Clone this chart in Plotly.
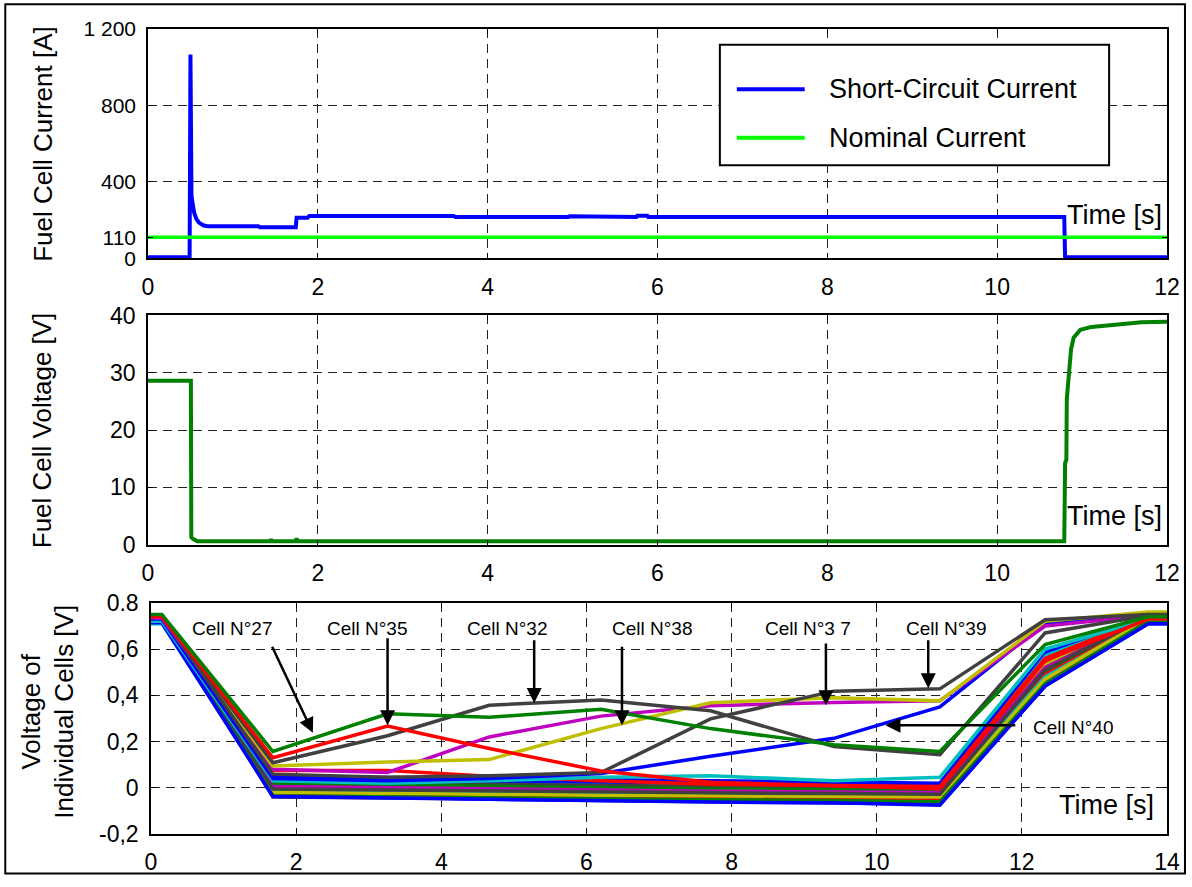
import plotly.graph_objects as go

# ---------------- data ----------------
# Fuel cell current during the short-circuit test
t_current = [0.00, 0.49, 0.500, 0.503, 0.507, 0.512, 0.520, 0.530, 0.545, 0.570,
             0.600, 0.650, 0.700, 1.300, 1.320, 1.740, 1.750, 1.880, 1.900, 3.600,
             3.620, 4.950, 4.970, 5.750, 5.760, 5.880, 5.890, 10.790, 10.800, 12.00]
i_short_circuit = [5, 5, 1066, 505, 495, 330, 300, 265, 235, 205,
                   186, 172, 167, 167, 162, 162, 212, 212, 221, 221,
                   216, 216, 220, 216, 222, 222, 216, 216, 5, 5]
t_nominal = [0.0, 12.0]
i_nominal = [110, 110]

# Fuel cell stack voltage
t_voltage = [0.00, 0.505, 0.510, 0.530, 0.580, 1.440, 1.450, 1.460, 1.740, 1.750,
             1.760, 10.790, 10.800, 10.815, 10.820, 10.830, 10.855, 10.870, 10.900,
             10.980, 11.110, 11.390, 11.700, 12.00]
v_stack = [28.6, 28.6, 1.3, 1.0, 0.6, 0.6, 0.9, 0.6, 0.6, 1.1,
           0.6, 0.6, 14.2, 14.8, 25.4, 27.0, 31.8, 34.1, 36.1,
           37.5, 38.0, 38.4, 38.8, 38.9]

# Individual cell voltages
t_cells = [0.00, 0.15, 1.68, 3.26, 4.66, 6.20, 7.71, 9.41, 10.87, 12.32, 13.74, 14.00]

cell_01 = [0.720, 0.720, 0.030, 0.025, 0.020, 0.015, 0.010, 0.008, 0.005, 0.58, 0.740, 0.740]
cell_02 = [0.730, 0.730, 0.010, 0.005, 0.000, -0.005, -0.010, -0.012, -0.015, 0.52, 0.730, 0.730]
cell_03 = [0.740, 0.740, -0.010, -0.015, -0.020, -0.022, -0.025, -0.028, -0.030, 0.50, 0.720, 0.720]
cell_04 = [0.710, 0.710, -0.030, -0.035, -0.040, -0.042, -0.045, -0.047, -0.050, 0.46, 0.720, 0.720]
cell_05 = [0.730, 0.730, 0.020, 0.015, 0.005, 0.000, -0.005, -0.008, -0.010, 0.55, 0.740, 0.740]
cell_06 = [0.740, 0.740, 0.000, -0.005, -0.010, -0.015, -0.018, -0.020, -0.022, 0.49, 0.730, 0.730]
cell_07 = [0.745, 0.745, -0.040, -0.045, -0.048, -0.050, -0.052, -0.055, -0.058, 0.44, 0.720, 0.720]
cell_08 = [0.730, 0.730, 0.045, 0.040, 0.035, 0.030, 0.020, 0.015, 0.010, 0.57, 0.745, 0.745]
cell_09 = [0.720, 0.720, -0.020, -0.025, -0.030, -0.035, -0.040, -0.042, -0.045, 0.47, 0.725, 0.725]
cell_10 = [0.740, 0.740, 0.005, 0.000, -0.005, -0.008, -0.010, -0.012, -0.015, 0.53, 0.735, 0.735]
cell_11 = [0.725, 0.725, -0.035, -0.040, -0.045, -0.048, -0.050, -0.052, -0.055, 0.455, 0.720, 0.720]
cell_12 = [0.730, 0.730, 0.015, 0.010, 0.000, -0.010, -0.015, -0.018, -0.020, 0.51, 0.730, 0.730]
cell_13 = [0.745, 0.745, -0.005, -0.010, -0.015, -0.018, -0.020, -0.022, -0.025, 0.50, 0.740, 0.740]
cell_14 = [0.740, 0.740, -0.030, -0.038, -0.042, -0.045, -0.048, -0.050, -0.052, 0.45, 0.720, 0.720]
cell_15 = [0.720, 0.720, 0.035, 0.030, 0.025, 0.020, 0.012, 0.010, 0.008, 0.56, 0.740, 0.740]
cell_16 = [0.735, 0.735, 0.000, -0.005, -0.012, -0.018, -0.022, -0.025, -0.028, 0.48, 0.730, 0.730]
cell_17 = [0.740, 0.740, -0.015, -0.020, -0.025, -0.030, -0.032, -0.035, -0.038, 0.54, 0.735, 0.735]
cell_18 = [0.720, 0.720, 0.020, 0.015, 0.012, 0.010, 0.005, 0.002, 0.000, 0.57, 0.735, 0.735]
cell_19 = [0.730, 0.730, -0.025, -0.030, -0.035, -0.038, -0.040, -0.043, -0.046, 0.47, 0.720, 0.720]
cell_20 = [0.745, 0.745, 0.010, 0.005, 0.000, -0.002, -0.005, -0.008, -0.010, 0.53, 0.745, 0.745]
cell_21 = [0.745, 0.745, 0.025, 0.020, 0.015, 0.010, 0.005, 0.000, -0.005, 0.52, 0.740, 0.740]
cell_22 = [0.715, 0.715, -0.030, -0.040, -0.050, -0.055, -0.060, -0.062, -0.070, 0.44, 0.710, 0.710]
cell_23 = [0.735, 0.735, 0.020, 0.012, 0.005, 0.000, -0.005, -0.008, -0.012, 0.50, 0.735, 0.735]
cell_24 = [0.740, 0.740, -0.030, -0.035, -0.040, -0.042, -0.044, -0.046, -0.048, 0.49, 0.725, 0.725]
cell_25 = [0.720, 0.720, -0.010, -0.015, -0.020, -0.025, -0.028, -0.030, -0.033, 0.48, 0.725, 0.725]
cell_26 = [0.730, 0.730, 0.005, 0.000, -0.008, -0.012, -0.015, -0.018, -0.020, 0.52, 0.730, 0.730]
cell_27 = [0.750, 0.750, 0.157, 0.320, 0.305, 0.340, 0.256, 0.186, 0.157, 0.62, 0.740, 0.740]
cell_28 = [0.745, 0.745, -0.020, -0.025, -0.030, -0.032, -0.035, -0.037, -0.040, 0.47, 0.735, 0.735]
cell_29 = [0.720, 0.720, 0.050, 0.045, 0.040, 0.035, 0.030, 0.025, 0.020, 0.59, 0.745, 0.745]
cell_30 = [0.740, 0.740, -0.035, -0.040, -0.045, -0.050, -0.052, -0.055, -0.060, 0.45, 0.720, 0.720]
cell_31 = [0.745, 0.745, -0.005, -0.010, -0.015, -0.020, -0.022, -0.025, -0.028, 0.51, 0.740, 0.740]
cell_32 = [0.745, 0.745, 0.108, 0.225, 0.357, 0.380, 0.333, 0.178, 0.143, 0.67, 0.745, 0.745]
cell_33 = [0.740, 0.740, 0.075, 0.075, 0.050, 0.030, 0.015, 0.010, 0.005, 0.56, 0.740, 0.740]
cell_34 = [0.715, 0.715, -0.038, -0.045, -0.052, -0.058, -0.062, -0.065, -0.075, 0.44, 0.710, 0.710]
cell_35 = [0.740, 0.740, 0.130, 0.267, 0.170, 0.073, 0.024, 0.010, -0.004, 0.55, 0.730, 0.730]
cell_36 = [0.720, 0.720, 0.030, 0.020, 0.030, 0.045, 0.052, 0.030, 0.045, 0.60, 0.730, 0.730]
cell_37 = [0.735, 0.735, 0.080, 0.066, 0.220, 0.310, 0.355, 0.369, 0.377, 0.70, 0.745, 0.745]
cell_38 = [0.745, 0.745, 0.094, 0.112, 0.122, 0.256, 0.368, 0.390, 0.376, 0.72, 0.760, 0.760]
cell_39 = [0.745, 0.745, 0.059, 0.045, 0.052, 0.066, 0.298, 0.418, 0.428, 0.727, 0.750, 0.750]
cell_40 = [0.730, 0.730, 0.040, 0.030, 0.040, 0.062, 0.136, 0.214, 0.350, 0.713, 0.740, 0.740]

# ---------------- styling ----------------
BLUE, GREEN, RED, CYAN = "#0000FF", "#008000", "#FF0000", "#00BFBF"
MAGENTA, YELLOW, GRAY = "#BF00BF", "#BFBF00", "#404040"

# background cells first, outliers drawn on top
background_cells = [cell_01, cell_02, cell_03, cell_04, cell_05, cell_06, cell_07,
                    cell_08, cell_09, cell_10, cell_11, cell_12, cell_13, cell_14,
                    cell_15, cell_16, cell_17, cell_18, cell_19, cell_20, cell_21,
                    cell_22, cell_23, cell_24, cell_25, cell_26, cell_28, cell_29,
                    cell_30, cell_31, cell_33, cell_34]
background_colors = [BLUE, GREEN, RED, CYAN, MAGENTA, YELLOW, GRAY,
                     BLUE, GREEN, RED, CYAN, MAGENTA, YELLOW, GRAY,
                     BLUE, GREEN, RED, CYAN, MAGENTA, YELLOW, GRAY,
                     BLUE, GREEN, RED, CYAN, MAGENTA, YELLOW, BLUE,
                     GREEN, GRAY, RED, BLUE]
outlier_cells = [cell_36, cell_40, cell_37, cell_38, cell_39, cell_32, cell_35, cell_27]
outlier_colors = [CYAN, BLUE, MAGENTA, YELLOW, GRAY, GRAY, RED, GREEN]

FONT = "Arial, Liberation Sans, Helvetica, sans-serif"
W, H = 1192, 887
L, R, T, B = 148, 23, 29, 43
PW, PH = W - L - R, H - T - B


def px_x(p):
    return (p - L) / PW


def px_y(p):
    return (H - B - p) / PH


fig = go.Figure()

# top panel
fig.add_trace(go.Scatter(x=t_current, y=i_short_circuit, mode="lines",
                         line=dict(color=BLUE, width=4), xaxis="x", yaxis="y",
                         name="Short-Circuit Current", showlegend=False))
fig.add_trace(go.Scatter(x=t_nominal, y=i_nominal, mode="lines",
                         line=dict(color="#00FF00", width=3.5), xaxis="x", yaxis="y",
                         name="Nominal Current", showlegend=False))
# middle panel
fig.add_trace(go.Scatter(x=t_voltage, y=v_stack, mode="lines",
                         line=dict(color=GREEN, width=4), xaxis="x2", yaxis="y2",
                         showlegend=False))
# bottom panel
for vals, col in zip(background_cells + outlier_cells, background_colors + outlier_colors):
    fig.add_trace(go.Scatter(x=t_cells, y=vals, mode="lines",
                             line=dict(color=col, width=3.5), xaxis="x3", yaxis="y3",
                             showlegend=False))

axis_common = dict(showline=True, linecolor="black", linewidth=1.5, mirror="allticks",
                   ticks="inside", ticklen=5, tickcolor="black",
                   showgrid=True, gridcolor="#222222", gridwidth=1, griddash="9px,6px",
                   zeroline=False, tickfont=dict(family=FONT, size=23, color="black"))

dom_top = [px_y(261), px_y(29)]
dom_mid = [px_y(551), px_y(319)]
dom_bot = [px_y(844), px_y(610)]

fig.update_layout(
    width=W, height=H,
    margin=dict(l=L, r=R, t=T, b=B),
    paper_bgcolor="white", plot_bgcolor="white",
    font=dict(family=FONT, color="black"),
    showlegend=False,
    xaxis=dict(axis_common, domain=[0, 1], anchor="y", range=[0, 12],
               tickvals=[0, 2, 4, 6, 8, 10, 12], ticklabelstandoff=7),
    yaxis=dict(axis_common, domain=dom_top, anchor="x", range=[0, 1200],
               tickvals=[0, 110, 400, 800, 1200],
               ticktext=["0", "110", "400", "800", "1 200"], ticklabelstandoff=6,
               tickfont=dict(family=FONT, size=21, color="black")),
    xaxis2=dict(axis_common, domain=[0, 1], anchor="y2", range=[0, 12],
                tickvals=[0, 2, 4, 6, 8, 10, 12], ticklabelstandoff=7),
    yaxis2=dict(axis_common, domain=dom_mid, anchor="x2", range=[0, 40],
                tickvals=[0, 10, 20, 30, 40], ticklabelstandoff=6),
    xaxis3=dict(axis_common, domain=[px_x(151), 1], anchor="y3", range=[0, 14],
                tickvals=[0, 2, 4, 6, 8, 10, 12, 14], ticklabelstandoff=7),
    yaxis3=dict(axis_common, domain=dom_bot, anchor="x3", range=[-0.2, 0.8],
                tickvals=[-0.2, 0, 0.2, 0.4, 0.6, 0.8],
                ticktext=["-0,2", "0", "0,2", "0,4", "0,6", "0.8"], ticklabelstandoff=6),
)

shapes = []
annotations = []

# outer frame around the whole figure
shapes.append(dict(type="rect", xref="paper", yref="paper",
                   x0=px_x(5), x1=px_x(1187), y0=px_y(884), y1=px_y(4),
                   line=dict(color="black", width=2), fillcolor="rgba(0,0,0,0)",
                   layer="above"))

# legend box of the current panel
shapes.append(dict(type="rect", xref="x domain", yref="y domain",
                   x0=(721 - L) / PW, x1=(1111 - L) / PW,
                   y0=(261 - 167) / 232, y1=(261 - 45) / 232,
                   line=dict(color="black", width=2), fillcolor="white", layer="above"))
for ypx, col, label in [(90, BLUE, "Short-Circuit Current"), (139, "#00FF00", "Nominal Current")]:
    yy = (261 - ypx) / 232
    shapes.append(dict(type="line", xref="x domain", yref="y domain",
                       x0=(738 - L) / PW, x1=(806 - L) / PW, y0=yy, y1=yy,
                       line=dict(color=col, width=4), layer="above"))
    annotations.append(dict(xref="x domain", yref="y domain", x=(828 - L) / PW, y=yy,
                            text=label, showarrow=False, xanchor="left", yanchor="middle",
                            font=dict(family=FONT, size=27, color="black")))

# axis titles
for ypx, txt, xpx in [(145, "Fuel Cell Current [A]", 42), (435, "Fuel Cell Voltage [V]", 42),
                      (720, "Voltage of<br>Individual Cells [V]", 47)]:
    annotations.append(dict(xref="paper", yref="paper", x=px_x(xpx), y=px_y(ypx),
                            text=txt, textangle=-90, showarrow=False,
                            xanchor="center", yanchor="middle",
                            font=dict(family=FONT, size=26, color="black")))

# "Time [s]" labels inside each panel
for xpx, ypx in [(1116, 217), (1116, 522), (1108, 815)]:
    annotations.append(dict(xref="paper", yref="paper", x=px_x(xpx), y=px_y(ypx),
                            text="Time [s]", showarrow=False,
                            xanchor="center", yanchor="middle",
                            font=dict(family=FONT, size=27, color="black")))

# cell labels and their arrows (bottom panel)
cell_labels = [("Cell N°27", 1.11, 0.688), ("Cell N°35", 2.97, 0.688),
               ("Cell N°32", 4.91, 0.688), ("Cell N°38", 6.91, 0.688),
               ("Cell N°3 7", 9.05, 0.688), ("Cell N°39", 10.95, 0.688),
               ("Cell N°40", 12.70, 0.262)]
for txt, xx, yy in cell_labels:
    annotations.append(dict(xref="x3", yref="y3", x=xx, y=yy, text=txt, showarrow=False,
                            xanchor="center", yanchor="middle",
                            font=dict(family=FONT, size=19, color="black")))

arrows = [((1.66, 0.617), (2.23, 0.238)), ((3.26, 0.653), (3.26, 0.271)),
          ((5.28, 0.645), (5.28, 0.367)), ((6.49, 0.617), (6.49, 0.271)),
          ((9.30, 0.631), (9.30, 0.357)), ((10.71, 0.645), (10.71, 0.431)),
          ((11.93, 0.271), (10.12, 0.271))]
for (tx, ty), (hx, hy) in arrows:
    annotations.append(dict(xref="x3", yref="y3", axref="x3", ayref="y3",
                            x=hx, y=hy, ax=tx, ay=ty, text="", showarrow=True,
                            arrowhead=2, arrowsize=1.2, arrowwidth=2.5,
                            arrowcolor="black"))

fig.update_layout(shapes=shapes, annotations=annotations)

fig.write_html("out.html")
